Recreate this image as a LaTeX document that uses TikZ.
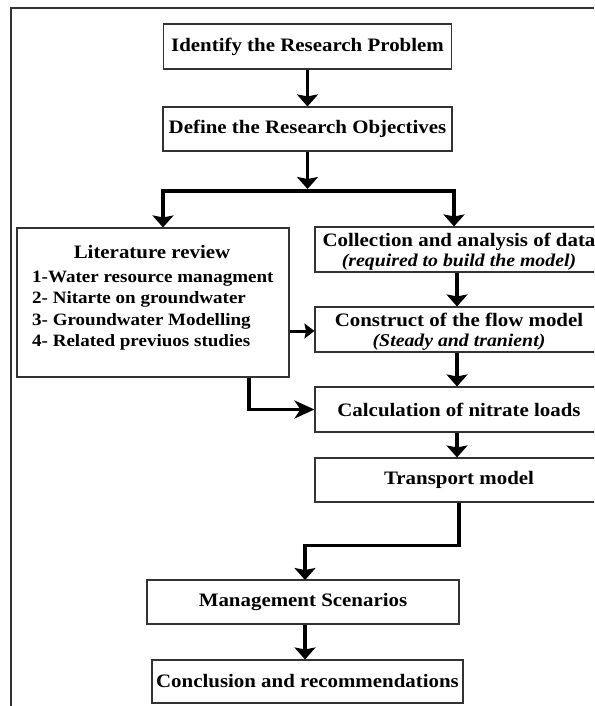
\documentclass[tikz,border=0pt]{standalone}
\usepackage{fontspec}
\setmainfont{Liberation Serif}[FakeStretch=1.1]
\usetikzlibrary{arrows.meta,calc}
\newcommand\subtxt[1]{{\bfseries\itshape\fontsize{18}{20}\selectfont #1}}
\begin{document}
\begin{tikzpicture}[x=1pt,y=-1pt,
  box/.style={draw=black!80, line width=1.1pt, rectangle, inner sep=0pt, align=center,
    font=\bfseries\fontsize{19}{20}\selectfont},
  item/.style={anchor=base west, inner sep=0pt, font=\bfseries\fontsize{17.3}{20}\selectfont},
  arr/.style={line width=3.4pt, line join=miter, draw=black,
    -{Stealth[width=21pt,length=12pt,inset=2pt]}},
  arrs/.style={line width=3pt, draw=black, -{Stealth[width=15pt,length=10pt,inset=1.5pt]}},
  arrl/.style={line width=3.4pt, line join=miter, draw=black,
    -{Stealth[width=18pt,length=20pt,inset=6pt]}},
  frame/.style={line width=1.4pt, draw=black!80}
 ]
\clip (0,0) rectangle (594,706);
% outer frame
\coordinate (fb) at (11,706);
\coordinate (ftl) at (11,8);
\coordinate (ftr) at (594,8);
\draw[frame] (fb) -- (ftl) -- (ftr);

% boxes
\node[box, minimum width=288pt, minimum height=45pt] (idp) at (307.5,46.5) {Identify the Research Problem};
\node[box, minimum width=289pt, minimum height=44pt] (dro) at (307.5,129) {Define the Research Objectives};

\node[box, minimum width=272pt, minimum height=149pt] (lit) at (153,302.5) {};
\node[anchor=base, inner sep=0pt, font=\bfseries\fontsize{19}{20}\selectfont] (litt) at (152,258) {Literature review};
\node[item] (l1) at (32,282) {1-Water resource managment};
\node[item] (l2) at (32,303.5) {2- Nitarte on groundwater};
\node[item] (l3) at (32,325) {3- Groundwater Modelling};
\node[item] (l4) at (32,346) {4- Related previuos studies};

\node[box, minimum width=288pt, minimum height=45pt] (col) at (459,249.5)
  {\rule{0pt}{17pt}Collection and analysis of data\\\subtxt{(required to build the model)}};
\node[box, minimum width=288pt, minimum height=45pt] (con) at (459,329.5)
  {\rule{0pt}{17pt}Construct of the flow model\\\subtxt{(Steady and tranient)}};
\node[box, minimum width=288pt, minimum height=45pt] (cal) at (459,409.5) {Calculation of nitrate loads};
\node[box, minimum width=288pt, minimum height=44pt] (tra) at (459,480) {Transport model};
\node[box, minimum width=312pt, minimum height=44pt] (man) at (303,602) {Management Scenarios};
\node[box, minimum width=311pt, minimum height=43pt] (conc) at (307.5,681.5) {Conclusion and recommendations};

% connectors
\coordinate (jl) at (163,191);
\coordinate (jr) at (454,191);
\coordinate (jt) at (307.5,189);
\coordinate (mtop) at (305,580);

\draw[arr] (idp.south) -- (dro.north);
\draw[arr] (dro.south) -- (jt);
\draw[arr] (jr) -- (jl) -- (jl |- lit.north);
\draw[arr] (jl) -- (jr) -- (jr |- col.north);
\draw[arr] ([xshift=-2pt]col.south) -- ([xshift=-2pt]con.north);
\draw[arr] ([xshift=-2pt]con.south) -- ([xshift=-2pt]cal.north);
\draw[arr] ([xshift=-2pt]cal.south) -- ([xshift=-2pt]tra.north);
\draw[arrs] (lit.east |- 0,331) -- (con.west |- 0,331);
\draw[arrl] ([xshift=96pt]lit.south) |- (cal.west);
\draw[arr] (tra.south) -- ++(0,43) -| (mtop);
\draw[arr] (mtop |- man.south) -- (mtop |- conc.north);
\end{tikzpicture}
\end{document}
